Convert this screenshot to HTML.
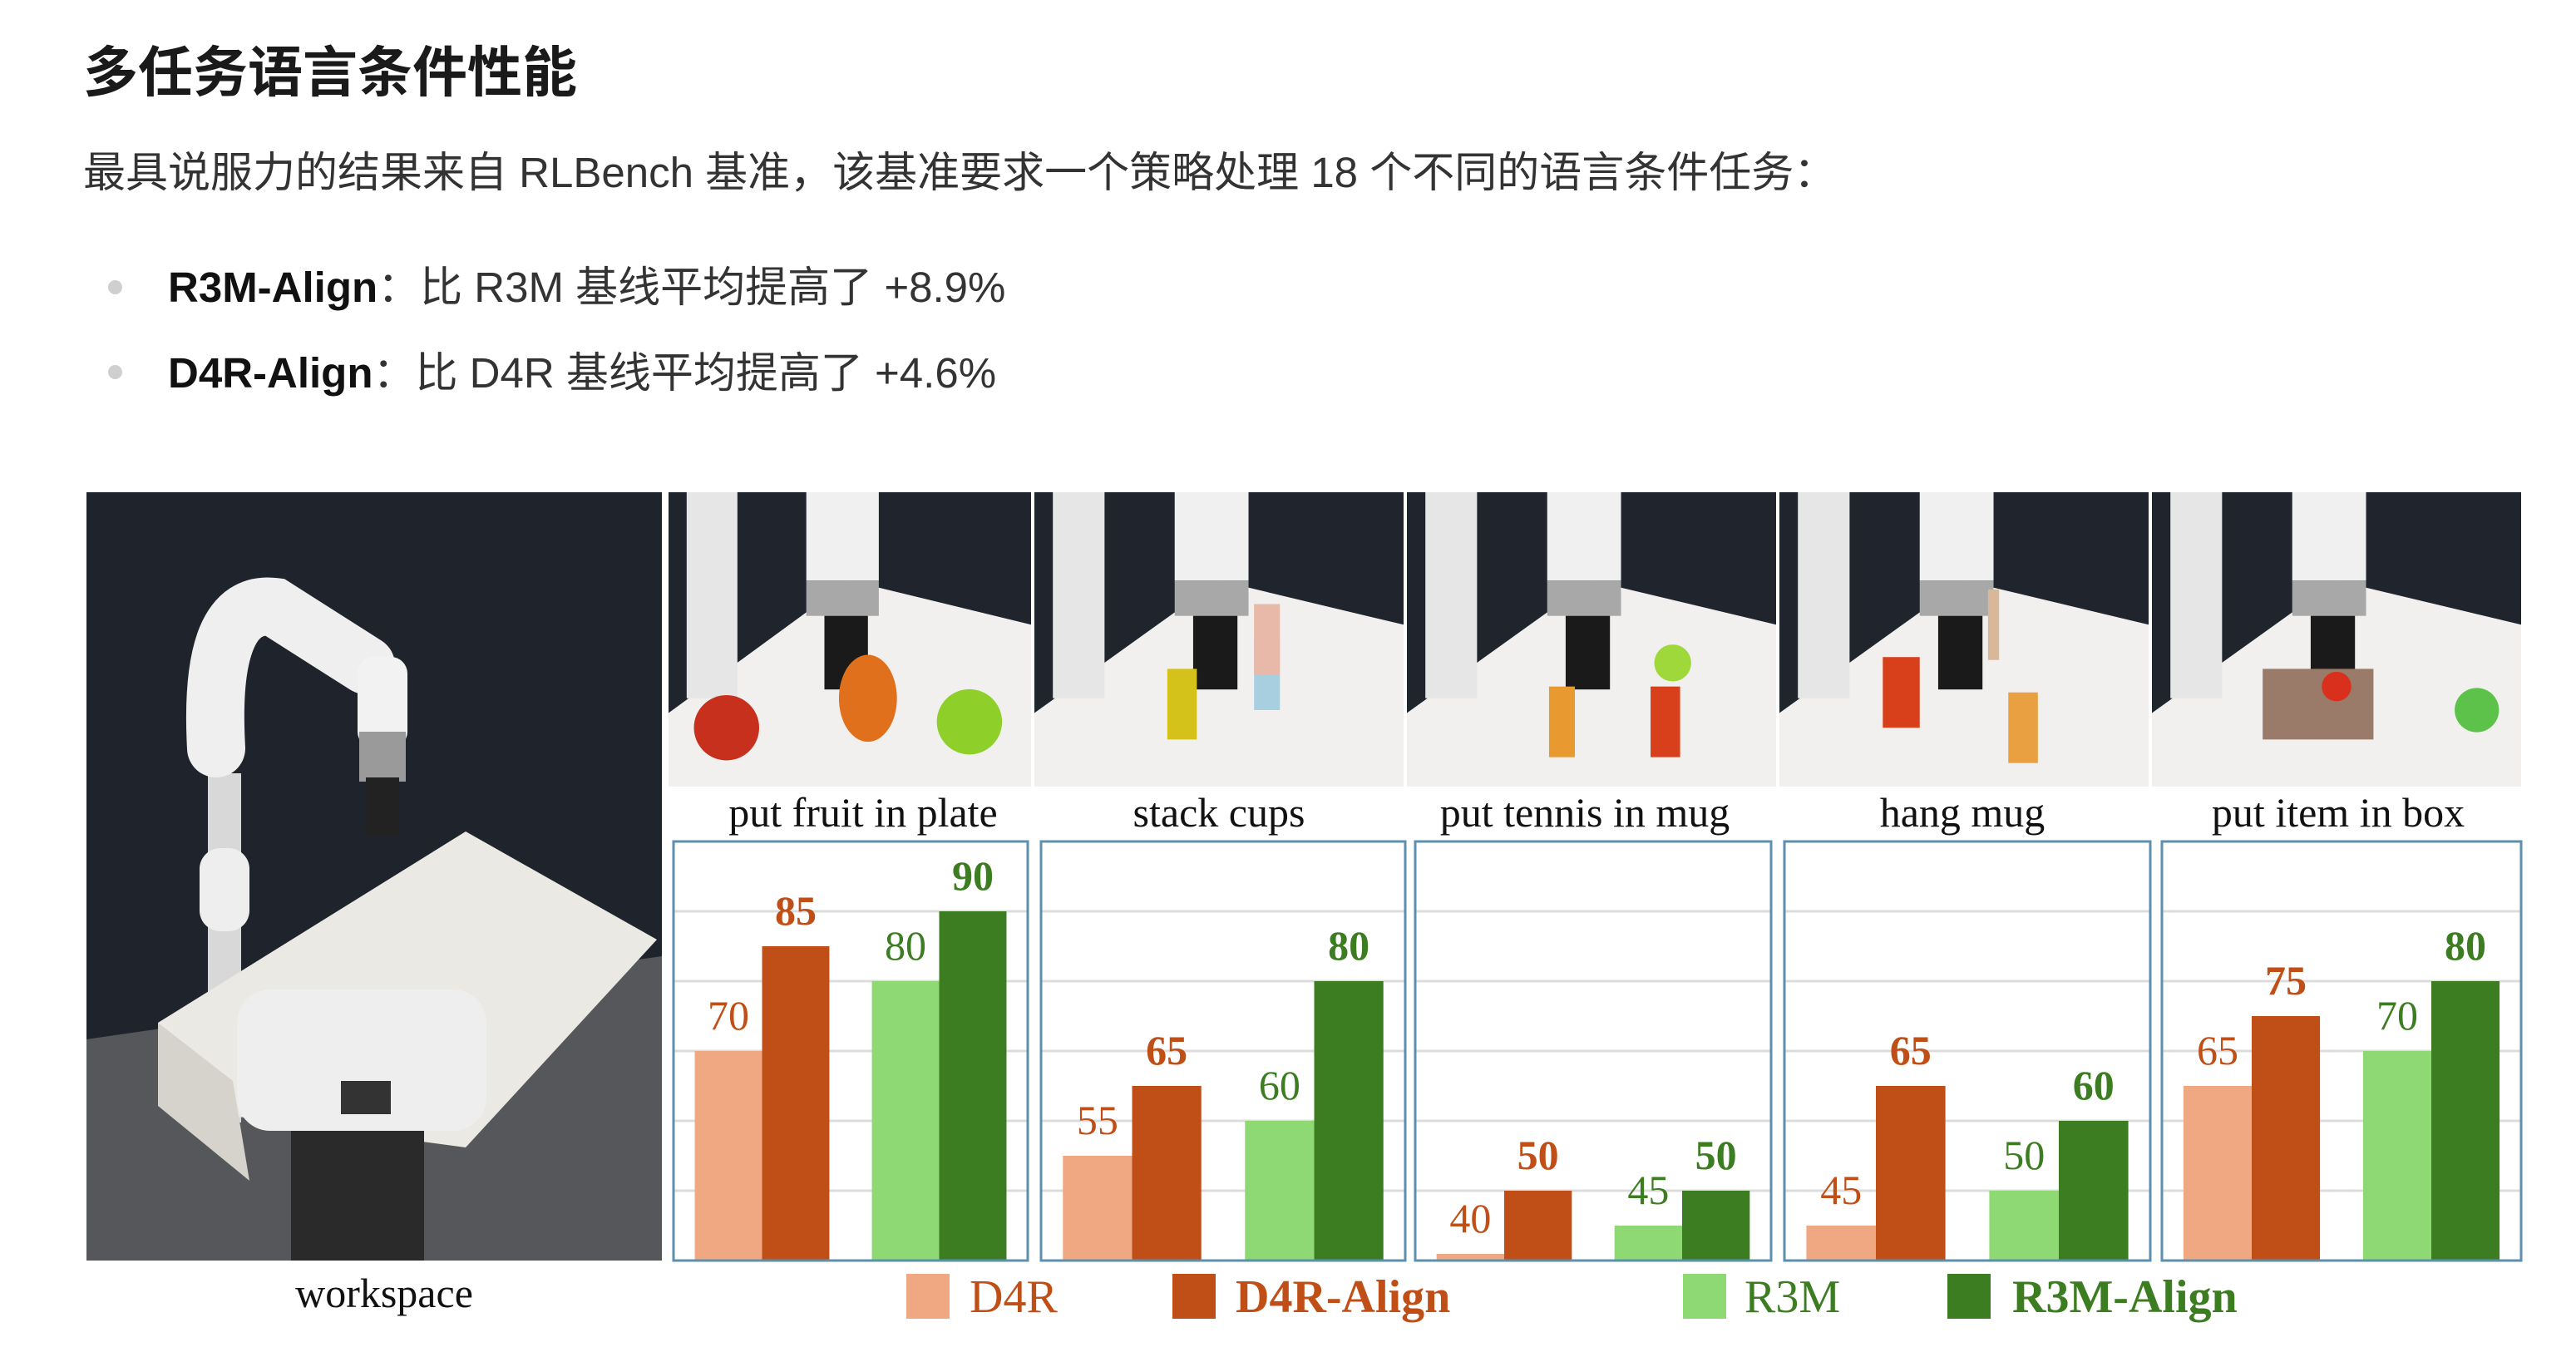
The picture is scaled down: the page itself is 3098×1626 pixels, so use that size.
<!DOCTYPE html>
<html><head><meta charset="utf-8">
<style>
html,body{margin:0;padding:0;background:#fff;}
body{width:3098px;height:1626px;position:relative;overflow:hidden;}
.t{position:absolute;white-space:nowrap;}
#title{left:100px;top:34px;font:bold 66px "Liberation Sans","Noto Sans CJK SC",sans-serif;color:#1a1a1a;}
#para{left:100px;top:166px;font:51px "Liberation Sans","Noto Sans CJK SC",sans-serif;color:#333;}
.bul{left:202px;font:51px "Liberation Sans","Noto Sans CJK SC",sans-serif;color:#333;}
.bul b{color:#111;}
.dot{position:absolute;width:17px;height:17px;border-radius:50%;background:#cfcfcf;left:130px;}
svg{position:absolute;left:0;top:0;}
</style></head>
<body>
<div class="t" id="title">多任务语言条件性能</div>
<div class="t" id="para">最具说服力的结果来自 RLBench 基准，该基准要求一个策略处理 18 个不同的语言条件任务：</div>
<div class="dot" style="top:337px"></div>
<div class="t bul" style="top:304px"><b>R3M-Align</b>：比 R3M 基线平均提高了 +8.9%</div>
<div class="dot" style="top:439px"></div>
<div class="t bul" style="top:407px"><b>D4R-Align</b>：比 D4R 基线平均提高了 +4.6%</div>

<svg id="fig" width="3098" height="1626">
<g>
 <rect x="104" y="592" width="692" height="924" fill="#1f242c"/>
 <polygon points="104,1250 796,1150 796,1516 104,1516" fill="#55575a"/>
 <rect x="250" y="930" width="40" height="420" fill="#d8d8d8"/>
 <rect x="240" y="1020" width="60" height="100" rx="25" fill="#eeeeee"/>
 <path d="M260 900 Q250 720 330 730 L440 800" stroke="#efefef" stroke-width="70" fill="none" stroke-linecap="round"/>
 <rect x="430" y="790" width="60" height="110" rx="20" fill="#f2f2f2"/>
 <rect x="432" y="880" width="56" height="60" fill="#9a9a9a"/>
 <rect x="440" y="935" width="40" height="70" fill="#222"/>
 <polygon points="190,1230 560,1000 790,1130 560,1380 190,1330" fill="#ebe9e4"/>
 <polygon points="190,1230 190,1330 300,1420 280,1300" fill="#d6d3cc"/>
 <rect x="285" y="1190" width="300" height="170" rx="40" fill="#eeeeee"/>
 <rect x="410" y="1300" width="60" height="40" fill="#333"/>
 <rect x="350" y="1360" width="160" height="156" fill="#2a2a2a"/>
</g>
<g id="photos"></g>
<text x="462" y="1572" font-family="Liberation Serif,serif" font-size="50" text-anchor="middle" fill="#111">workspace</text>
<g id="charts"></g>
<g id="legend"></g>
</svg>

<script>
const tasks = ["put fruit in plate","stack cups","put tennis in mug","hang mug","put item in box"];
const d4r = [70,55,40,45,65];
const d4rAlign = [85,65,50,65,75];
const r3m = [80,60,45,50,70];
const r3mAlign = [90,80,50,60,80];
const yTicks = [50,60,70,80,90];
const seriesNames = ["D4R","D4R-Align","R3M","R3M-Align"];

const NS="http://www.w3.org/2000/svg";
function mk(tag, attrs, parent){const e=document.createElementNS(NS,tag);for(const k in attrs)e.setAttribute(k,attrs[k]);parent.appendChild(e);return e;}
const colors=["#f0a882","#c04f17","#8ed973","#3c7d22"];
const txtColors=["#c04f17","#c04f17","#3c7d22","#3c7d22"];
const bold=[false,true,false,true];
const panelL=[810,1252,1702,2146,2600], panelW=[426,438,428,440,432];
const yTop=1012, yBot=1516, vMin=40, vMax=100;
function yS(v){return yBot-(v-vMin)/(vMax-vMin)*(yBot-yTop);}

const photos=document.getElementById('photos');
const px=[804,1244,1692,2140,2588,3036];
const objs=[
 [["circle",0.16,0.8,0.09,"#c8301e"],["ellipse",0.55,0.7,0.1,"#e0701c"],["circle",0.83,0.78,0.09,"#8fcf2a"]],
 [["rect",0.4,0.72,0.08,"#d4c21a"],["rect",0.63,0.62,0.07,"#a8cfe0"],["rect",0.63,0.5,0.07,"#e8b8a8"]],
 [["rect",0.42,0.78,0.07,"#e89a30"],["rect",0.7,0.78,0.08,"#d8401c"],["circle",0.72,0.58,0.05,"#9fd83a"]],
 [["rect",0.33,0.68,0.1,"#d8401c"],["rect",0.66,0.8,0.08,"#e8a040"],["rect",0.58,0.45,0.03,"#d8b898"]],
 [["rect",0.45,0.72,0.3,"#9a7a68"],["circle",0.88,0.74,0.06,"#5cc24a"],["circle",0.5,0.66,0.04,"#d8301c"]]
];
for(let i=0;i<5;i++){
 const x0=px[i], w=px[i+1]-px[i]-4, y0=592, h=354;
 const g=mk('g',{},photos);
 
 
 mk('rect',{x:x0,y:y0,width:w,height:h,fill:'#20252d'},g);
 mk('polygon',{points:`${x0},${y0+h*0.75} ${x0+w*0.5},${y0+h*0.3} ${x0+w},${y0+h*0.45} ${x0+w},${y0+h} ${x0},${y0+h}`,fill:'#f1f0ee'},g);
 mk('rect',{x:x0+w*0.05,y:y0,width:w*0.14,height:h*0.7,fill:'#e6e6e6'},g);
 mk('rect',{x:x0+w*0.38,y:y0,width:w*0.2,height:h*0.3,fill:'#f0f0f0'},g);
 mk('rect',{x:x0+w*0.38,y:y0+h*0.3,width:w*0.2,height:h*0.12,fill:'#a8a8a8'},g);
 mk('rect',{x:x0+w*0.43,y:y0+h*0.42,width:w*0.12,height:h*0.25,fill:'#1a1a1a'},g);
 for(const o of objs[i]){
  if(o[0]==='circle') mk('circle',{cx:x0+w*o[1],cy:y0+h*o[2],r:w*o[3],fill:o[4]},g);
  else if(o[0]==='ellipse') mk('ellipse',{cx:x0+w*o[1],cy:y0+h*o[2],rx:w*o[3]*0.8,ry:w*o[3]*1.2,fill:o[4]},g);
  else mk('rect',{x:x0+w*(o[1]-o[3]/2),y:y0+h*(o[2]-0.12),width:w*o[3],height:h*0.24,fill:o[4]},g);
 }
}

const charts=document.getElementById('charts');
const labelCx=[1038,1466,1906,2360,2812];
const series=[d4r,d4rAlign,r3m,r3mAlign];
for(let i=0;i<tasks.length;i++){
 const L=panelL[i], W=panelW[i];
 const g=mk('g',{},charts);
 
 
 const tl=mk('text',{x:labelCx[i],y:994,'font-family':'Liberation Serif,serif','font-size':50,'text-anchor':'middle',fill:'#111'},g);
 tl.textContent=tasks[i];
 
 
 for(const t of yTicks){
  const gl=mk('line',{x1:L,x2:L+W,y1:yS(t),y2:yS(t),stroke:'#dcdcdc','stroke-width':3},g);
  
  
 }
 const bw=W*0.19, m=W*0.06, gap=W*0.12;
 for(let s=0;s<4;s++){
  const v=series[s][i];
  const bx=L+m+(s>=2?2*bw+gap:0)+(s%2)*bw;
  const top=Math.min(yS(v),yBot-8);
  const r=mk('rect',{x:bx,y:top,width:bw,height:yBot-top,fill:colors[s]},g);
  
  
  const vl=mk('text',{x:bx+bw/2,y:top-26,'font-family':'Liberation Serif,serif','font-size':50,'font-weight':bold[s]?'bold':'normal','text-anchor':'middle',fill:txtColors[s]},g);
  vl.textContent=v;
  
  
 }
 const fr=mk('rect',{x:L,y:yTop,width:W,height:yBot-yTop,fill:'none',stroke:'#5d8fae','stroke-width':3},g);
 
 
}

const legend=document.getElementById('legend');
const legSw=[1090,1410,2024,2342], legTx=[1166,1486,2098,2420];
for(let s=0;s<4;s++){
 const g=mk('g',{},legend);
 
 
 mk('rect',{x:legSw[s],y:1532,width:52,height:54,fill:colors[s]},g);
 const t=mk('text',{x:legTx[s],y:1578,'font-family':'Liberation Serif,serif','font-size':56,'font-weight':bold[s]?'bold':'normal',fill:txtColors[s]},g);
 t.textContent=seriesNames[s];
}
</script>
</body></html>
